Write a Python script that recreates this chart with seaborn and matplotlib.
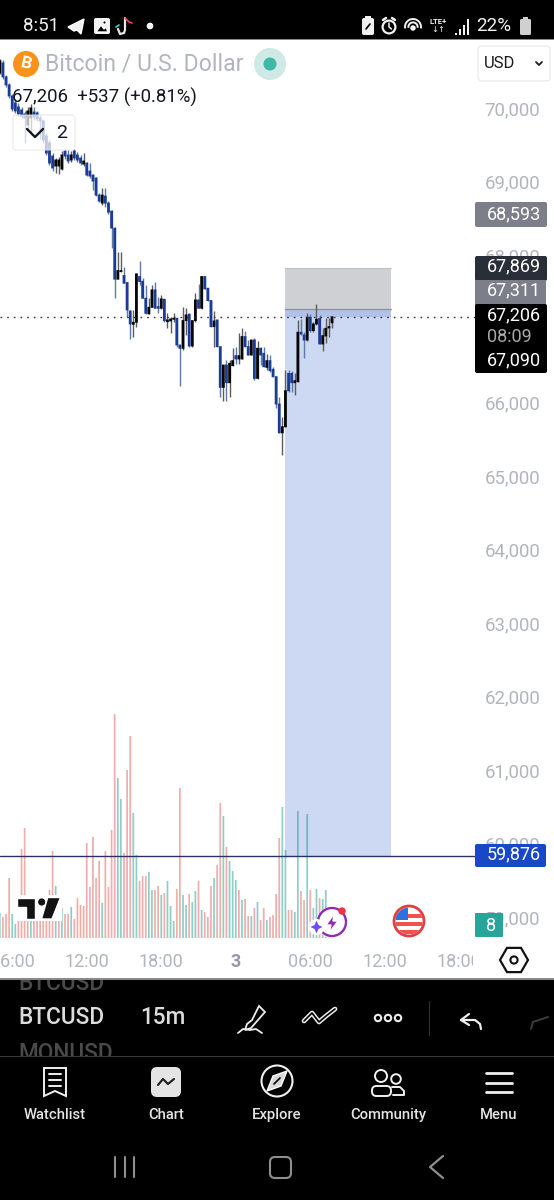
import numpy as np
import pandas as pd
import matplotlib
matplotlib.use("Agg")
import matplotlib.pyplot as plt
from matplotlib.patches import Rectangle, Circle, FancyBboxPatch, Polygon, Arc
from matplotlib.transforms import Bbox, ScaledTranslation
import seaborn as sns

# BTCUSD, 15-minute candles
opens = [70523,70659,70468,70359,70209,70114,70060,70019,69964,69814,
         69910,69991,69978,69910,69869,69665,69569,69392,69256,69256,
         69215,69460,69406,69338,69460,69406,69365,69283,69297,69188,
         69133,69093,68861,68752,68847,68752,68643,68411,67717,67821,
         67767,67671,67285,67104,67131,67753,67689,67458,67245,67335,
         67571,67344,67322,67444,67140,67149,67172,67186,66822,66777,
         67154,67240,66809,67154,67435,67322,67753,67594,67426,67072,
         67163,66800,66246,66550,66309,66541,66677,66632,66632,66936,
         66800,66686,66890,66368,66777,66709,66518,66609,66491,66391,
         66019,65628,65710,66436,66436,66309,66323,66995,66958,66890,
         67199,67018,67108,67186,66836,66945,67054,67124]
highs = [70713,70700,70495,70386,70237,70168,70114,70060,70005,70060,
         70100,70060,70005,69951,69896,69705,69610,69433,69365,69379,
         69460,69488,69474,69460,69488,69447,69406,69433,69310,69297,
         69147,69106,68888,68956,68956,68779,68657,68428,68093,68093,
         67889,67678,67298,67299,67798,67971,67730,67639,67458,67639,
         67685,67481,67503,67448,67254,67199,67263,67193,66828,67344,
         67331,67263,67154,67526,67653,67767,67767,67598,67430,67285,
         67168,66803,66550,66618,66618,66777,66790,66981,67058,67018,
         66890,66893,66913,66881,66800,66800,66700,66686,66527,66394,
         66119,65846,66482,66482,66473,66436,67163,67172,67004,67254,
         67245,67140,67376,67231,67049,67186,67186,67186]
lows = [70509,70441,70332,70182,70005,69978,69937,69910,69569,69733,
        69705,69883,69869,69624,69569,69406,69270,69188,69161,69147,
        69201,69351,69297,69310,69338,69310,69270,69256,69120,69093,
        68929,68847,68766,68725,68698,68602,68139,67467,67713,67818,
        67662,67199,66904,66936,67072,67640,67458,67245,67238,67333,
        67322,67254,67318,67140,67049,66981,67140,66800,66268,66754,
        66958,66798,66798,67140,67322,67318,67585,67426,67072,66790,
        66790,66109,66064,66064,66109,66538,66564,66564,66628,66790,
        66686,66683,66346,66363,66550,66518,66482,66459,66382,65960,
        65628,65324,65708,66187,66187,66141,66318,66958,66641,66881,
        67004,67004,67095,66836,66745,66845,66936,67049]
closes = [70686,70468,70359,70209,70032,70005,69964,69937,69910,70005,
          70046,69923,69896,69869,69610,69433,69297,69229,69338,69338,
          69406,69392,69324,69406,69365,69338,69297,69324,69133,69120,
          69052,68861,68779,68861,68752,68629,68412,67717,67835,67835,
          67662,67299,67108,67131,67789,67685,67458,67254,67335,67571,
          67322,67322,67449,67154,67163,67176,67186,66822,66777,67154,
          67231,66809,67154,67435,67322,67753,67585,67426,67072,67149,
          66800,66246,66550,66309,66573,66609,66632,66677,66936,66800,
          66686,66890,66368,66777,66686,66527,66609,66473,66391,66019,
          65628,65710,66200,66200,66309,66337,66995,66972,66890,67199,
          67018,67108,67172,66836,66949,67049,67072,67206]
volumes = [25,21,24,60,24,14,29,89,110,30,
           30,28,28,28,28,28,48,87,52,17,
           30,24,24,31,19,40,33,32,95,51,
           101,60,77,35,87,51,108,224,160,139,
           85,168,202,125,83,57,62,62,66,48,
           48,52,43,45,57,32,17,49,150,43,
           33,44,36,47,57,28,26,21,52,60,
           73,135,122,91,77,67,58,48,38,39,
           22,22,30,36,18,30,18,21,23,44,
           100,131,88,28,28,26,127,47,38,124,
           48,30,49,40,39,48,25,22]
volume_flags = ("TPPPTTPPPP" "TPPPPPPPTP" "TPPTPPPPPP" "PPPTPPPPTT" "PPPTTPPPTT"
                "PPTPTTTPPT" "TPTTPTPPPT" "PPTPTTTPTP" "PTPTPPTPPP" "PTTPPTTPPT"
                "PTTPTTTT")

price_ticks = [70000, 69000, 68000, 67000, 66000, 65000, 64000, 63000, 62000, 61000, 60000, 59000]
time_tick_bars = [4, 28, 52, 76, 100, 124, 148]
time_tick_labels = ["06:00", "12:00", "18:00", "3", "06:00", "12:00", "18:00"]

last_price = 67206
prev_close_change = "+537 (+0.81%)"
stop_price = 67869
entry_price = 67311
target_price = 59876
alert_price = 68593
bid_price = 67090
box_start_bar = 92
box_end_bar = 126

BLUE = "#1b3c96"
BLACK = "#060606"
GREY_TXT = "#b2b5be"

sns.set_theme(style="white")
plt.rcParams["font.family"] = ["Roboto", "DejaVu Sans"]
plt.rcParams["axes.grid"] = False

W, H = 554, 1200
fig = plt.figure(figsize=(W / 100, H / 100), dpi=100, facecolor="white")


def pane(zorder):
    a = fig.add_axes([0, 1 - 938 / H, 475 / W, (938 - 40) / H], zorder=zorder)
    a.set_facecolor("none")
    a.set_xlim(0.064, 153.05)
    for s in a.spines.values():
        s.set_visible(False)
    return a


# volume pane, sharing the time scale with the candles
vol_ax = pane(1)
frame = pd.DataFrame({"bar": np.arange(len(volumes)), "volume": volumes, "dir": list(volume_flags)})
sns.barplot(data=frame, x="bar", y="volume", hue="dir", palette={"T": "#8dcfc6", "P": "#eeaeac"},
            native_scale=True, dodge=False, legend=False, width=0.56, errorbar=None,
            saturation=1, linewidth=0, ax=vol_ax)
for patch in vol_ax.patches:
    patch.set_snap(False)
vol_ax.set_xlim(0.064, 153.05)
vol_ax.set_ylim(0, 898)
vol_ax.set_axis_off()

# price pane
ax = pane(2)
ax.set_ylim(58757, 70970)
bars = np.arange(len(opens))
opens_a, highs_a, lows_a, closes_a = map(np.array, (opens, highs, lows, closes))
up = closes_a >= opens_a

box_w = box_end_bar - box_start_bar
ax.add_patch(Rectangle((box_start_bar, entry_price), box_w, stop_price - entry_price,
                       fc="#787b86", alpha=0.35, lw=0, zorder=1))
ax.add_patch(Rectangle((box_start_bar, target_price), box_w, entry_price - target_price,
                       fc="#1f4fc4", alpha=0.22, lw=0, zorder=1))
ax.add_patch(Rectangle((box_start_bar, last_price), box_w, entry_price - last_price,
                       fc="#1f4fc4", alpha=0.16, lw=0, zorder=1))
ax.plot([box_start_bar, box_end_bar], [entry_price, entry_price], color="#8f9198", lw=0.9, zorder=1.5)
ax.plot([box_start_bar, box_end_bar], [stop_price, stop_price], color="#c4c4c6", lw=0.8, zorder=1.5)

ax.vlines(bars[up], lows_a[up], highs_a[up], color="#5d5d5f", lw=1.0, zorder=3)
ax.vlines(bars[~up], lows_a[~up], highs_a[~up], color="#5f7aa6", lw=1.0, zorder=3)
body_up = ax.bar(bars[up], (closes_a - opens_a)[up] + 12, bottom=opens_a[up] - 6,
                 width=0.9, color=BLACK, lw=0, zorder=4)
body_dn = ax.bar(bars[~up], (opens_a - closes_a)[~up] + 12, bottom=closes_a[~up] - 6,
                 width=0.9, color=BLUE, lw=0, zorder=4)
for patch in list(body_up) + list(body_dn):
    patch.set_snap(False)

ax.axhline(last_price, color="#33343a", lw=1.0, ls=(0, (1.2, 3.6)), zorder=5)
ax.axhline(target_price, color="#28335f", lw=1.0, zorder=5)

ax.yaxis.tick_right()
ax.set_yticks(price_ticks, [f"{p:,}" for p in price_ticks])
ax.tick_params(axis="y", length=0, pad=7.0, labelsize=13.4, labelcolor=GREY_TXT)
lift = ScaledTranslation(0, 3 / 100, fig.dpi_scale_trans)
for lbl in ax.get_yticklabels():
    lbl.set_transform(lbl.get_transform() + lift)
ax.set_xticks(time_tick_bars, time_tick_labels)
ax.tick_params(axis="x", length=0, pad=11, labelsize=13, labelcolor=GREY_TXT)
for lbl in ax.get_xticklabels():
    lbl.set_clip_on(True)
    lbl.set_clip_box(Bbox([[0, 0], [473, H]]))
    if lbl.get_text() == "3":
        lbl.set_fontweight("bold")
        lbl.set_color("#9598a1")

# interface layer in screen coordinates
ui = fig.add_axes([0, 0, 1, 1], zorder=5)
ui.set_xlim(0, W)
ui.set_ylim(H, 0)
ui.set_facecolor("none")
ui.set_axis_off()


def rect(x0, y0, x1, y1, c, z=1, **kw):
    ui.add_patch(Rectangle((x0, y0), x1 - x0, y1 - y0, fc=c, lw=0, zorder=z, **kw))


def rrect(x0, y0, x1, y1, fc, ec="none", r=3, lw=1, z=2, alpha=None):
    ui.add_patch(FancyBboxPatch((x0 + r, y0 + r), x1 - x0 - 2 * r, y1 - y0 - 2 * r,
                                boxstyle=f"round,pad={r},rounding_size={r}", fc=fc, ec=ec, lw=lw,
                                zorder=z, alpha=alpha))


def txt(x, y, s, size=13, c="black", ha="left", va="center", w="normal", z=6, **kw):
    return ui.text(x, y, s, fontsize=size, color=c, ha=ha, va=va, fontweight=w, zorder=z, **kw)


def line(xs, ys, c="white", lw=1.4, z=6):
    ui.plot(xs, ys, color=c, lw=lw, zorder=z, solid_capstyle="round", solid_joinstyle="round")


# status bar
rect(0, 0, W, 39, "black")
rect(0, 39, W, 40.2, "#8a8a8a")
txt(23, 26, "8:51", 13.5, "#f2f2f2")
ui.add_patch(Polygon([[68, 27], [84, 19], [81, 34], [77, 30], [74, 31]], fc="#f2f2f2", zorder=6))
rrect(94, 18, 110, 34, "#f2f2f2", r=2, z=6)
ui.add_patch(Polygon([[96, 32], [101, 25], [104, 29], [106, 27], [108, 32]], fc="black", zorder=7))
ui.add_patch(Circle((104.5, 22.5), 1.8, fc="black", zorder=7))
line([125, 125, 124, 120, 118], [18, 30, 33, 34, 29], "#e8e8e8", 1.6)
line([125, 129, 132], [18, 22, 23], "#ff3e5f", 1.2)
line([116, 119], [27, 25], "#35d9dd", 1.2)
ui.add_patch(Circle((150, 26), 2.6, fc="#f2f2f2", zorder=6))
rrect(362, 18, 374, 35, "#f2f2f2", r=2, z=6)
rect(365, 16, 371, 18, "#f2f2f2", 6)
line([366, 370], [29, 24], "black", 1.2, 7)
ui.add_patch(Circle((389, 27), 6.4, fc="none", ec="#f2f2f2", lw=1.6, zorder=6))
line([383, 386], [20, 18], "#f2f2f2", 1.8)
line([392, 395], [18, 20], "#f2f2f2", 1.8)
line([389, 389, 391.5], [23, 27, 29], "#f2f2f2", 1.1)
for r_ in (8, 4.6):
    ui.add_patch(Arc((413, 27), 2 * r_, 2 * r_, theta1=170, theta2=370, ec="#f2f2f2", lw=1.4, zorder=6))
ui.add_patch(Circle((413, 28), 2, fc="#f2f2f2", zorder=6))
txt(438, 21, "LTE+", 5.5, "#f2f2f2", ha="center", w="bold")
txt(438, 30, "↓↑", 6, "#f2f2f2", ha="center")
for bx, by in zip((455, 459, 463, 467), (33, 29, 25, 19)):
    rect(bx, by, bx + 1.8, 35, "#f2f2f2", 6)
txt(476, 26, "22%", 13.5, "#f2f2f2")
rrect(520, 19, 531, 35, "#d0d0d0", r=1.5, z=6)
rect(523, 17, 528, 19, "#d0d0d0", 6)

# symbol header
ui.add_patch(Circle((26, 64), 13, fc="#f7931a", lw=0, zorder=6))
txt(26, 64, "B", 12.5, "white", ha="center", w="bold", z=7, rotation=-12)
txt(45, 63.5, "Bitcoin / U.S. Dollar", 16.6, GREY_TXT)
ui.add_patch(Circle((270, 64), 16, fc="#cfeae6", lw=0, zorder=6))
ui.add_patch(Circle((270, 64), 6.5, fc="#3fb8a5", lw=0, zorder=7))
rrect(478, 46, 550, 81, "white", "#ececec", r=4, z=6)
txt(484, 63, "USD", 12, "#1a1a1a", z=7)
line([536, 539, 542], [62, 65, 62], "#1a1a1a", 1.3, 7)

txt(12, 97, "67,206  " + prev_close_change, 13.4, "#131722")
rrect(13, 115, 75, 150, "white", "#e3e4e8", r=3, lw=0.9, z=4, alpha=0.72)
line([27, 35, 43], [129, 137, 129], "#131722", 1.7)
txt(62, 133, "2", 14, "#131722", ha="center")

# price labels
rrect(475, 202, 547, 227, "#7c7f8a", r=2, z=3)
txt(487, 214, f"{alert_price:,}", 13, "white")
rrect(475, 256, 547, 281, "#2a2e39", r=2, z=3)
txt(487, 266, f"{stop_price:,}", 13, "white")
rect(475, 280, 546, 305, "#7c7f8a", 3)
txt(487, 290, f"{entry_price:,}", 13, "white")
rrect(475, 304, 547, 373, "black", r=2, z=3)
txt(487, 315, f"{last_price:,}", 13, "white")
txt(487, 337, "08:09", 13, "#a8a8a8")
txt(487, 360, f"{bid_price:,}", 13, "white")
rrect(475, 844, 546, 867, "#1848c8", r=2, z=3)
txt(487, 854, f"{target_price:,}", 13, "white")
rrect(475, 913, 503, 937, "#26a69a", r=1, z=3)
txt(491, 926, "8", 13, "white", ha="center")

# chart watermark
rect(15, 895, 62, 921, "white", 3)
ui.add_patch(Polygon([[17.3, 897.5], [35, 897.5], [35, 919], [26, 919], [26, 906.5], [17.3, 906.5]], fc="#131313", zorder=4))
ui.add_patch(Circle((41.7, 902), 4.3, fc="#131313", zorder=4))
ui.add_patch(Polygon([[47.7, 897.5], [60.5, 897.5], [52, 919], [41.5, 919]], fc="#131313", zorder=4))

# assistant badge
ui.add_patch(Circle((332, 923), 15, fc="white", lw=0, zorder=3))
ui.add_patch(Arc((332, 922), 28, 28, theta1=0, theta2=360, ec="#8e2cb3", lw=1.7, zorder=4))
ui.add_patch(Polygon([[334, 914], [326, 925], [331, 925], [329, 933], [338, 921], [333, 921]], fc="#8e2cb3", zorder=4))
ui.add_patch(Circle((316.5, 927), 8, fc="white", lw=0, zorder=4))
ui.add_patch(Polygon([[316.5, 919], [319, 924.5], [324, 927], [319, 929.5], [316.5, 935], [314, 929.5], [309, 927], [314, 924.5]],
                     fc="#6d4cf0", zorder=5))
ui.add_patch(Circle((342, 911), 3.7, fc="#ef3340", lw=0, zorder=5))

# calendar flag
flag = Circle((409, 921), 13.5, transform=ui.transData)
ui.add_patch(Circle((409, 921), 15, fc="white", lw=0, zorder=3))
for sy in (914, 922, 930):
    r_ = Rectangle((394, sy), 30, 4, fc="#ef5350", lw=0, zorder=4)
    ui.add_patch(r_)
    r_.set_clip_path(flag)
r_ = Rectangle((394, 905), 14, 15, fc="#2f6fe0", lw=0, zorder=5)
ui.add_patch(r_)
r_.set_clip_path(flag)
ui.add_patch(Circle((409, 921), 15, fc="none", ec="#e53e3e", lw=2, zorder=6))

hexa = [[514 + 14 * np.cos(t), 960 + 14 * np.sin(t)] for t in np.radians(np.arange(0, 360, 60))]
ui.add_patch(Polygon(hexa, fc="white", ec="#111111", lw=1.6, zorder=6))
ui.add_patch(Circle((514, 960), 3.6, fc="white", ec="#111111", lw=1.5, zorder=7))

# toolbar
rect(0, 978, W, 1200, "black", 3)
rect(0, 978, W, 979.5, "#8a8a8a", 4)
rect(0, 1056, W, 1057, "#3a3a3a", 4)
clip_band = Rectangle((0, 980), W, 76, transform=ui.transData)
t = txt(18, 984, "BTCUSD", 16.3, "#4a4a4a", w="medium")
t.set_clip_on(True)
t.set_clip_path(clip_band)
t = txt(18, 1054, "MONUSD", 16.3, "#4a4a4a", w="medium")
t.set_clip_on(True)
t.set_clip_path(clip_band)
txt(18, 1018, "BTCUSD", 16.3, "#dcdcdc", w="medium")
txt(140, 1018, "15m", 16.3, "#dcdcdc", w="medium")
# drawing tool glyphs
ui.add_patch(Polygon([[252, 1020], [247, 1024], [245, 1030], [251, 1028], [265, 1012], [259, 1006]], fc="black", ec="#eeeeee", lw=1.3, zorder=6))
line([238, 243, 250, 256, 262], [1033, 1029, 1030, 1029, 1033], "#eeeeee", 1.3)
line([304, 312, 319, 326, 335], [1021, 1013, 1022, 1016, 1009], "#eeeeee", 3.4)
line([304, 312, 319, 326, 335], [1021, 1013, 1022, 1016, 1009], "black", 1.2, 7)
for cx in (378, 388, 398):
    ui.add_patch(Circle((cx, 1018), 3.2, fc="none", ec="#eeeeee", lw=1.5, zorder=6))
rect(429, 1001, 430, 1036, "#333333", 6)
line([461, 469], [1020, 1014], "#eeeeee", 1.6)
line([461, 469], [1020, 1025], "#eeeeee", 1.6)
line([461, 475, 480, 481], [1020, 1020, 1024, 1029], "#eeeeee", 1.6)
line([533, 548], [1022, 1017], "#3d3d3d", 1.4)
line([533, 531], [1022, 1029], "#3d3d3d", 1.4)

# bottom navigation
nav = [("Watchlist", 55), ("Chart", 166), ("Explore", 277), ("Community", 388), ("Menu", 499)]
for name, cx in nav:
    txt(cx, 1115, name, 10.6, "#e4e4e4", ha="center", w="medium")
ui.add_patch(Polygon([[44, 1068], [66, 1068], [66, 1096], [55, 1091], [44, 1096]], fc="none", ec="#f0f0f0", lw=1.4, zorder=6))
for yy in (1074, 1080, 1086):
    line([49, 61], [yy, yy], "#f0f0f0", 1.4)
rrect(151, 1067, 181, 1097, "#e4e4e4", r=6, z=6)
line([158, 163, 168, 174], [1085, 1079, 1084, 1079], "#1a1a1a", 1.5, 7)
ui.add_patch(Circle((277, 1081), 15.5, fc="none", ec="#f0f0f0", lw=1.5, zorder=6))
ui.add_patch(Polygon([[287, 1071], [281, 1086], [267, 1091], [273, 1076]], fc="#d8d8d8", zorder=6))
line([274, 280], [1084, 1078], "black", 1.2, 7)
ui.add_patch(Circle((381, 1076), 6, fc="none", ec="#f0f0f0", lw=1.4, zorder=6))
ui.add_patch(Circle((396, 1079), 4.8, fc="none", ec="#f0f0f0", lw=1.4, zorder=6))
rrect(372, 1086, 391, 1096, "black", "#f0f0f0", r=4.5, lw=1.4, z=6)
line([392, 400, 404, 404, 393], [1087, 1087, 1091, 1095, 1095], "#f0f0f0", 1.4)
for yy in (1073, 1083, 1092):
    line([486, 512], [yy, yy], "#f0f0f0", 2)

# system navigation
for xx in (115, 125, 134):
    line([xx, xx], [1157, 1177], "#8f8f8f", 1.5)
rrect(270, 1157, 291, 1178, "none", "#8f8f8f", r=5, lw=1.5, z=6)
line([443, 430, 443], [1156, 1167, 1178], "#8f8f8f", 1.6)

fig.savefig("out.png", dpi=100)
